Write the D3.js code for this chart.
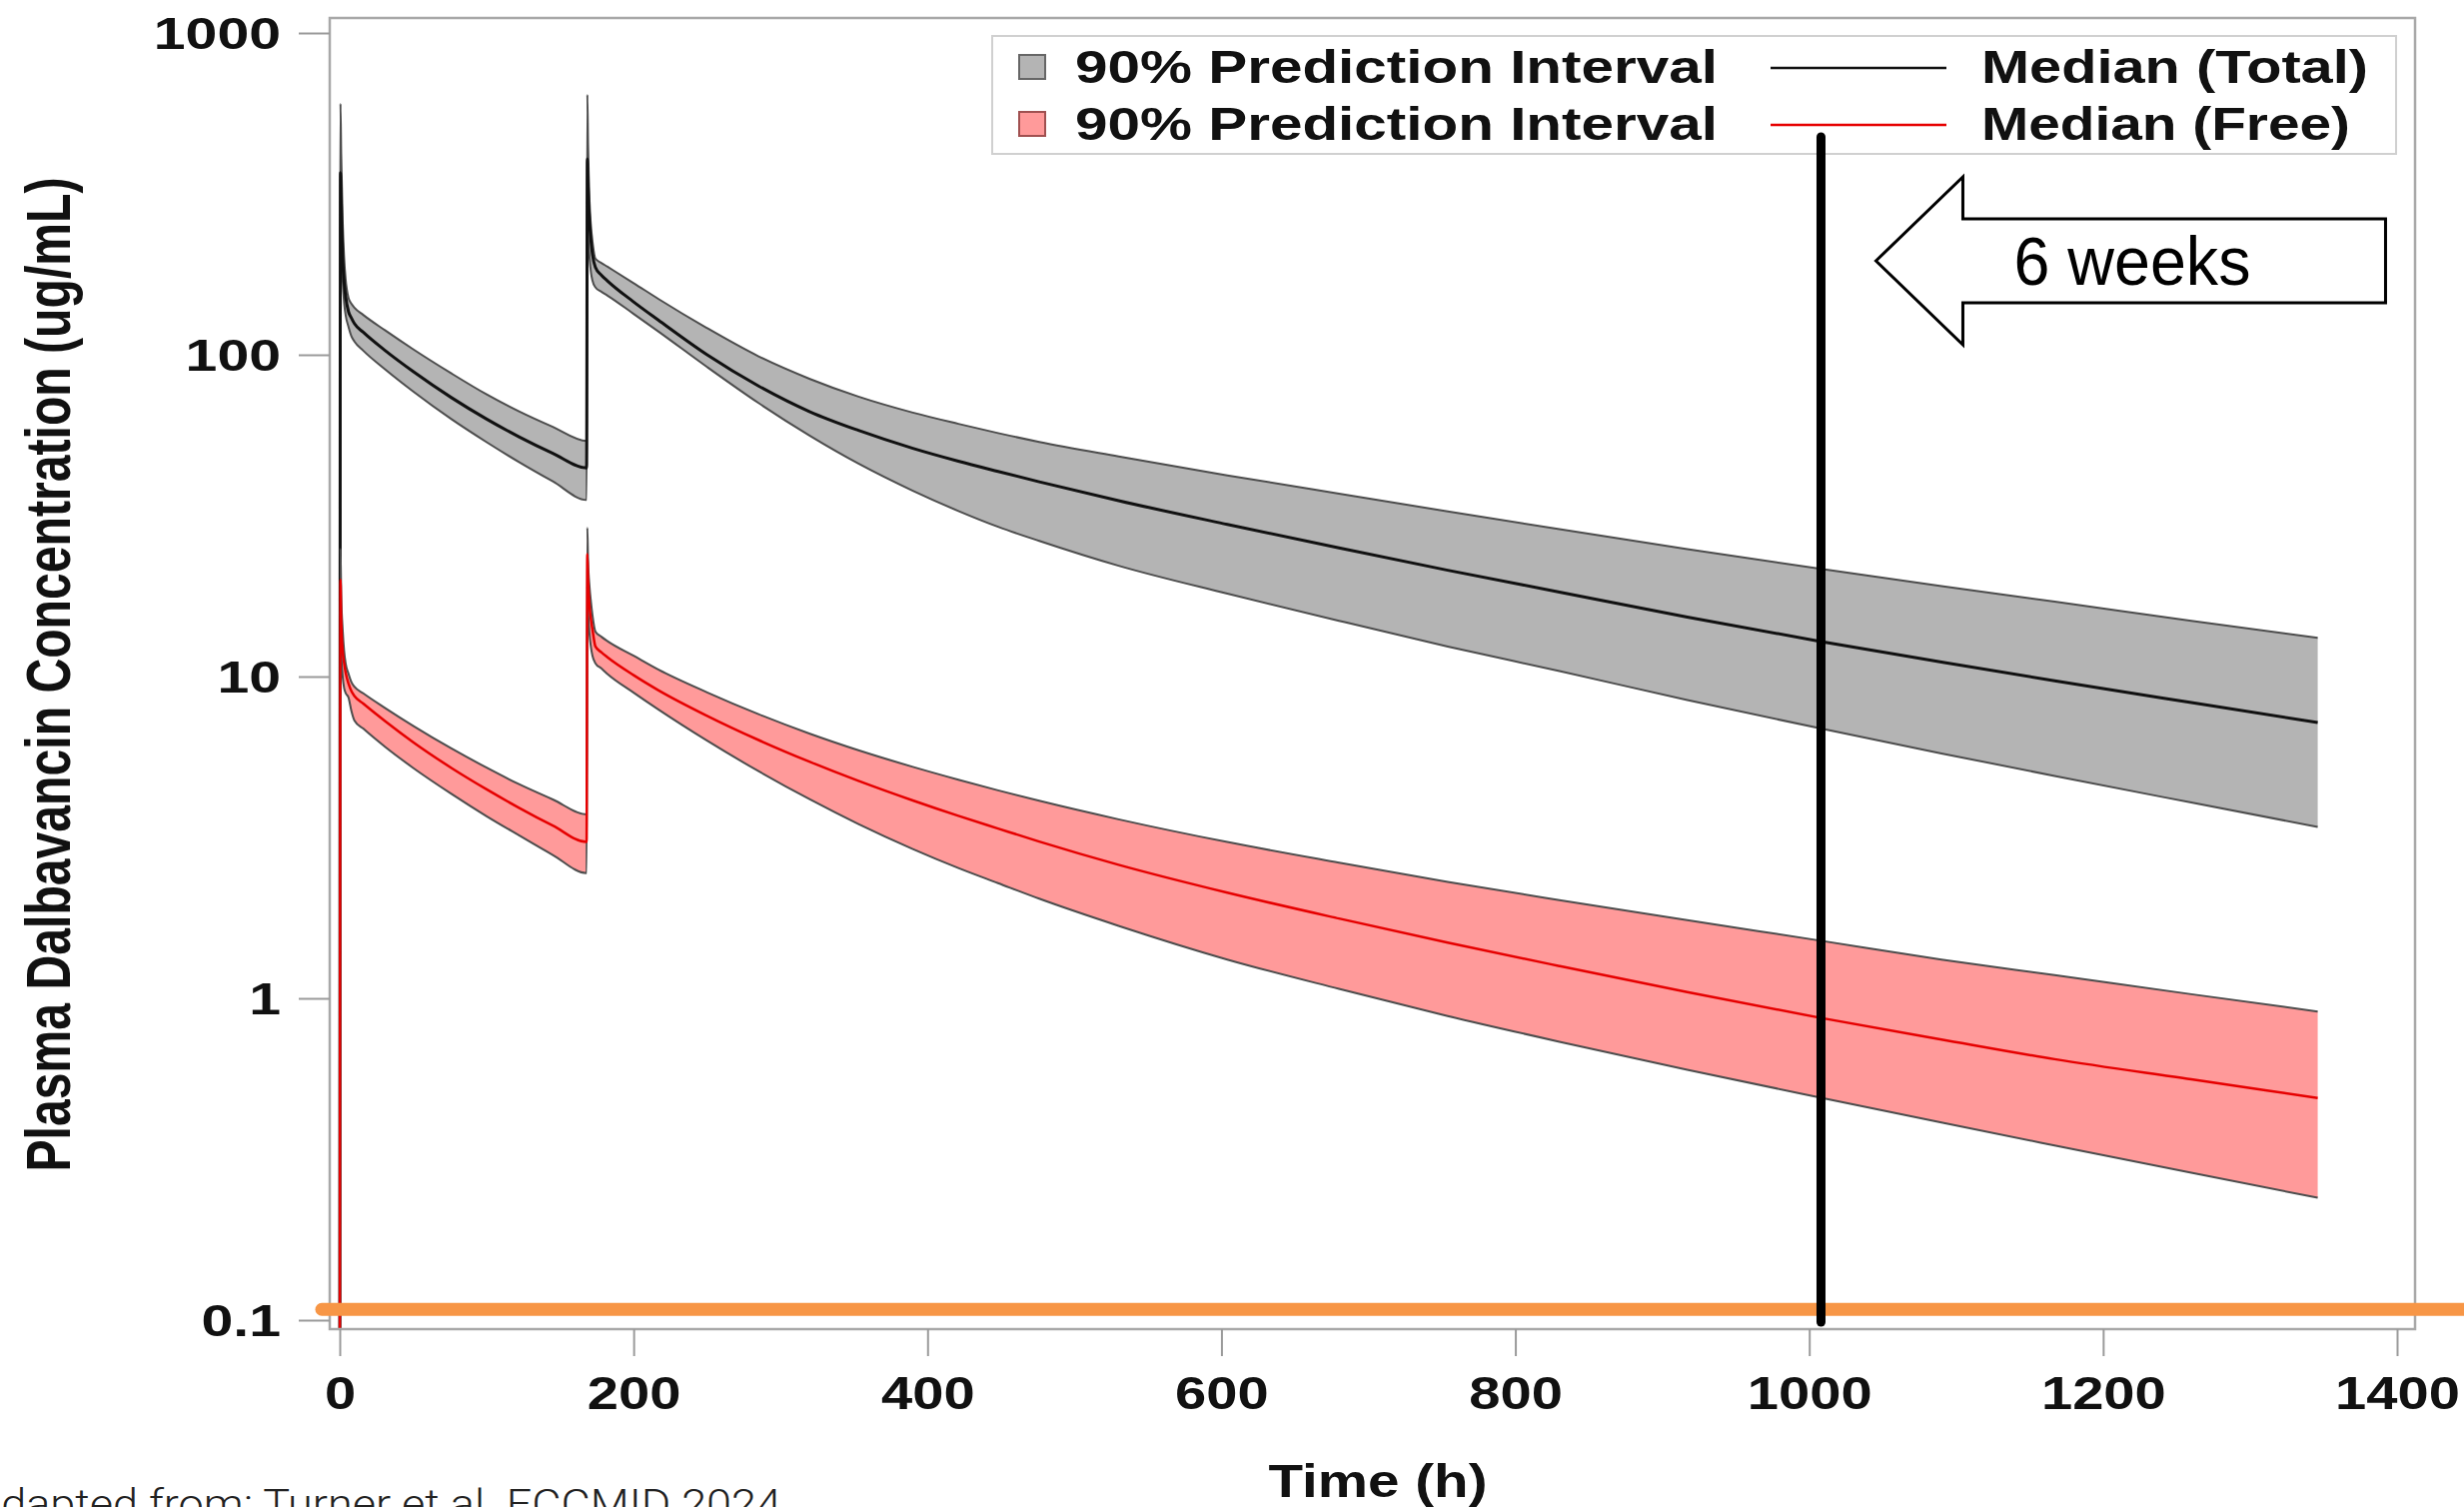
<!DOCTYPE html>
<html><head><meta charset="utf-8">
<script src="https://cdn.jsdelivr.net/npm/d3@7"></script>
<style>html,body{margin:0;padding:0;background:#fff;overflow:hidden;} svg{display:block;}</style>
</head><body>
<svg id="chart" width="2466" height="1508"></svg>
<script>
// ---------------- DATA ----------------
const times = [0,0.5,1,2,3,4,6,8,10,16,31,50,76,100,122,145,168,168.5,169,170,171,172,174,178,182,200,217,250,285,320,353,390,421,448,476,530,604,680,754,830,917,1008,1090,1167,1260,1346];
const totalUpper  = [0.02,603,420,260,200,172,150,144,140,133,119,104,87.5,75.3,66.7,59.7,54,643,450,300,250,225,199,193,188,167,149,121,98.9,84.1,74.1,66.1,61.0,57.1,53.6,48.3,42.2,37.0,32.6,28.7,24.9,21.6,19.1,17.1,14.9,13.2];
const totalMedian = [0.02,368,300,200,168,152,136,130,125,117.5,103,88.7,73.6,63.1,55.6,49.4,44.5,406,330,260,225,205,187,177,170,146,128,100,80,66.5,58.2,51.2,46.7,43.4,40.3,35.2,29.7,25.1,21.4,18.3,15.3,12.85,11.1,9.7,8.3,7.2];
const totalLower  = [0.02,300,230,170,145,133,122,114,110,103,90,76.9,63.1,53.5,46.4,40.4,35.4,300,240,200,180,170,162,157,153,134,118,91.6,70.8,56.0,45.9,37.8,32.7,29.2,26.4,22.1,18.1,14.9,12.4,10.4,8.45,6.89,5.77,4.91,4.06,3.41];
const freeUpper   = [0.02,25,18,14,12,11,10.2,9.6,9.3,8.87,7.98,7.03,5.98,5.21,4.63,4.15,3.73,29,23,19,17,15.5,13.8,13.3,12.9,11.6,10.5,8.93,7.64,6.64,5.90,5.24,4.78,4.43,4.11,3.60,3.06,2.64,2.30,2.02,1.75,1.51,1.32,1.18,1.03,0.91];
const freeMedian  = [0.02,20,15,12,11,10.3,9.5,9.0,8.7,8.24,7.26,6.25,5.2,4.46,3.91,3.44,3.06,24,20,16.5,15,14,12.4,11.9,11.5,10.1,9.06,7.55,6.35,5.43,4.74,4.12,3.69,3.37,3.07,2.60,2.13,1.77,1.49,1.26,1.045,0.869,0.745,0.647,0.56,0.49];
const freeLower   = [0.02,16,12,10,9.2,8.9,8.6,7.8,7.3,6.89,6.04,5.2,4.32,3.68,3.21,2.79,2.45,19,16,13.5,12.3,11.6,11.0,10.6,10.2,8.91,7.89,6.32,5.08,4.15,3.48,2.91,2.54,2.28,2.04,1.68,1.32,1.07,0.881,0.733,0.600,0.491,0.411,0.349,0.287,0.240];

const xTicks = [0,200,400,600,800,1000,1200,1400];
const yTicks = [0.1,1,10,100,1000];
const yTickLabels = ["0.1","1","10","100","1000"];
const legendBandLabels = ["90% Prediction Interval","90% Prediction Interval"];
const legendLineLabels = ["Median (Total)","Median (Free)"];
const xTitle = "Time (h)";
const yTitle = "Plasma Dalbavancin Concentration (ug/mL)";
const sixWeeksHours = 1008;
const sixWeeksLabel = "6 weeks";
const thresholdConc = 0.108;
const sourceNote = "Adapted from: Turner et al. ECCMID 2024";

// ---------------- CHART ----------------
const FONT = "'Liberation Sans', Arial, Helvetica, sans-serif";
const svg = d3.select("#chart");
const x = d3.scaleLinear().domain([0,1400]).range([340,2399]);
const y = d3.scaleLog().domain([0.1,1000]).range([1321,33]);
const frame = {left:330, top:18, right:2417, bottom:1330};

svg.append("defs").append("clipPath").attr("id","plotclip")
  .append("rect").attr("x",frame.left).attr("y",frame.top)
  .attr("width",frame.right-frame.left).attr("height",frame.bottom-frame.top);

const plot = svg.append("g").attr("clip-path","url(#plotclip)");

function band(lo, hi, fill) {
  const a = d3.area().x((d,i)=>x(times[i])).y0((d,i)=>y(lo[i])).y1((d,i)=>y(hi[i])).curve(d3.curveMonotoneX);
  plot.append("path").datum(times).attr("d",a).attr("fill",fill).attr("stroke","none");
  [lo,hi].forEach(arr=>{
    const l = d3.line().x((d,i)=>x(times[i])).y((d,i)=>y(arr[i])).curve(d3.curveMonotoneX);
    plot.append("path").datum(times).attr("d",l).attr("fill","none").attr("stroke","#4d4d4d").attr("stroke-width",2);
  });
}
function medianLine(arr, color, w) {
  const l = d3.line().x((d,i)=>x(times[i])).y((d,i)=>y(arr[i])).curve(d3.curveMonotoneX);
  plot.append("path").datum(times).attr("d",l).attr("fill","none").attr("stroke",color).attr("stroke-width",w);
}
band(totalLower, totalUpper, "#b4b4b4");
medianLine(totalMedian, "#111", 3);
band(freeLower, freeUpper, "#ff9a9a");
medianLine(freeMedian, "#e60000", 2.5);

// frame
svg.append("rect").attr("x",frame.left).attr("y",frame.top)
  .attr("width",frame.right-frame.left).attr("height",frame.bottom-frame.top)
  .attr("fill","none").attr("stroke","#a8a8a8").attr("stroke-width",2.5);

// axes
const gx = svg.append("g").attr("transform",`translate(0,${frame.bottom})`)
  .call(d3.axisBottom(x).tickValues(xTicks).tickSize(27).tickFormat(d3.format("d")));
gx.select(".domain").remove();
gx.selectAll(".tick line").attr("stroke","#9a9a9a").attr("stroke-width",2);
gx.selectAll(".tick text").attr("y",80).attr("dy",0).attr("font-size",46).attr("font-weight","bold")
  .attr("font-family",FONT).attr("fill","#111").attr("transform","scale(1.22,1)");

const gy = svg.append("g").attr("transform",`translate(${frame.left},0)`)
  .call(d3.axisLeft(y).tickValues(yTicks).tickSize(31).tickFormat((d,i)=>yTickLabels[i]));
gy.select(".domain").remove();
gy.selectAll(".tick line").attr("stroke","#9a9a9a").attr("stroke-width",2);
gy.selectAll(".tick text").attr("x",-49/1.3).attr("dy","0.36em").attr("font-size",44).attr("font-weight","bold")
  .attr("font-family",FONT).attr("fill","#111").attr("transform","scale(1.3,1)");

// axis titles
svg.append("text").attr("x",1379).attr("y",1498).attr("text-anchor","middle")
  .attr("font-family",FONT).attr("font-weight","bold").attr("font-size",46).attr("fill","#111")
  .attr("textLength",219).attr("lengthAdjust","spacingAndGlyphs").text(xTitle);
svg.append("text").attr("transform","translate(70,675) scale(1.3,1) rotate(-90)")
  .attr("text-anchor","middle").attr("font-family",FONT).attr("font-weight","bold").attr("font-size",48)
  .attr("fill","#111").attr("textLength",995).attr("lengthAdjust","spacingAndGlyphs").text(yTitle);

// legend
const lg = svg.append("g");
lg.append("rect").attr("x",993).attr("y",36).attr("width",1405).attr("height",118)
  .attr("fill","#fff").attr("stroke","#d0d0d0").attr("stroke-width",2);
const rowsY = [67,124];
const swFill = ["#b4b4b4","#ff9a9a"], swStroke = ["#666","#a05050"];
const lnColor = ["#111","#e60000"];
const lineLens = [387,369];
rowsY.forEach((cy,i)=>{
  lg.append("rect").attr("x",1020).attr("y",cy-12).attr("width",26).attr("height",24)
    .attr("fill",swFill[i]).attr("stroke",swStroke[i]).attr("stroke-width",2);
  lg.append("text").attr("x",1076).attr("y",cy+16).attr("font-family",FONT).attr("font-weight","bold")
    .attr("font-size",46).attr("fill","#111").attr("textLength",643).attr("lengthAdjust","spacingAndGlyphs")
    .text(legendBandLabels[i]);
  lg.append("line").attr("x1",1772).attr("x2",1948).attr("y1",cy+1).attr("y2",cy+1)
    .attr("stroke",lnColor[i]).attr("stroke-width",2.5);
  lg.append("text").attr("x",1983).attr("y",cy+16).attr("font-family",FONT).attr("font-weight","bold")
    .attr("font-size",46).attr("fill","#111").attr("textLength",lineLens[i]).attr("lengthAdjust","spacingAndGlyphs")
    .text(legendLineLabels[i]);
});

// threshold (orange) line
svg.append("line").attr("x1",322).attr("x2",2500).attr("y1",y(thresholdConc)).attr("y2",y(thresholdConc))
  .attr("stroke","#f79646").attr("stroke-width",13).attr("stroke-linecap","round");

// six-weeks vertical line
const x6 = x(sixWeeksHours);
svg.append("line").attr("x1",x6).attr("x2",x6).attr("y1",137).attr("y2",1323)
  .attr("stroke","#000").attr("stroke-width",9).attr("stroke-linecap","round");

// block arrow
const tipX = x6+55, headX = x6+142, endX = x6+565, cyA = 261;
const arrowPts = [[tipX,cyA],[headX,cyA-84],[headX,cyA-42],[endX,cyA-42],[endX,cyA+42],[headX,cyA+42],[headX,cyA+84]];
svg.append("polygon").attr("points",arrowPts.map(p=>p.join(",")).join(" "))
  .attr("fill","#fff").attr("stroke","#000").attr("stroke-width",3).attr("stroke-linejoin","miter");
svg.append("text").attr("x",x6+193).attr("y",285).attr("font-family","'Liberation Sans Narrow', 'Liberation Sans', Arial, sans-serif")
  .attr("font-size",68).attr("fill","#000").attr("textLength",237).attr("lengthAdjust","spacingAndGlyphs").text(sixWeeksLabel);

// source note (cut off at the bottom-left edge, as in the original slide)
svg.append("text").attr("x",-27).attr("y",1519).attr("font-family","Roboto, 'Open Sans', sans-serif")
  .attr("font-weight",300).attr("font-size",40).attr("fill","#222")
  .attr("textLength",809).attr("lengthAdjust","spacingAndGlyphs").text(sourceNote);
</script>
</body></html>
